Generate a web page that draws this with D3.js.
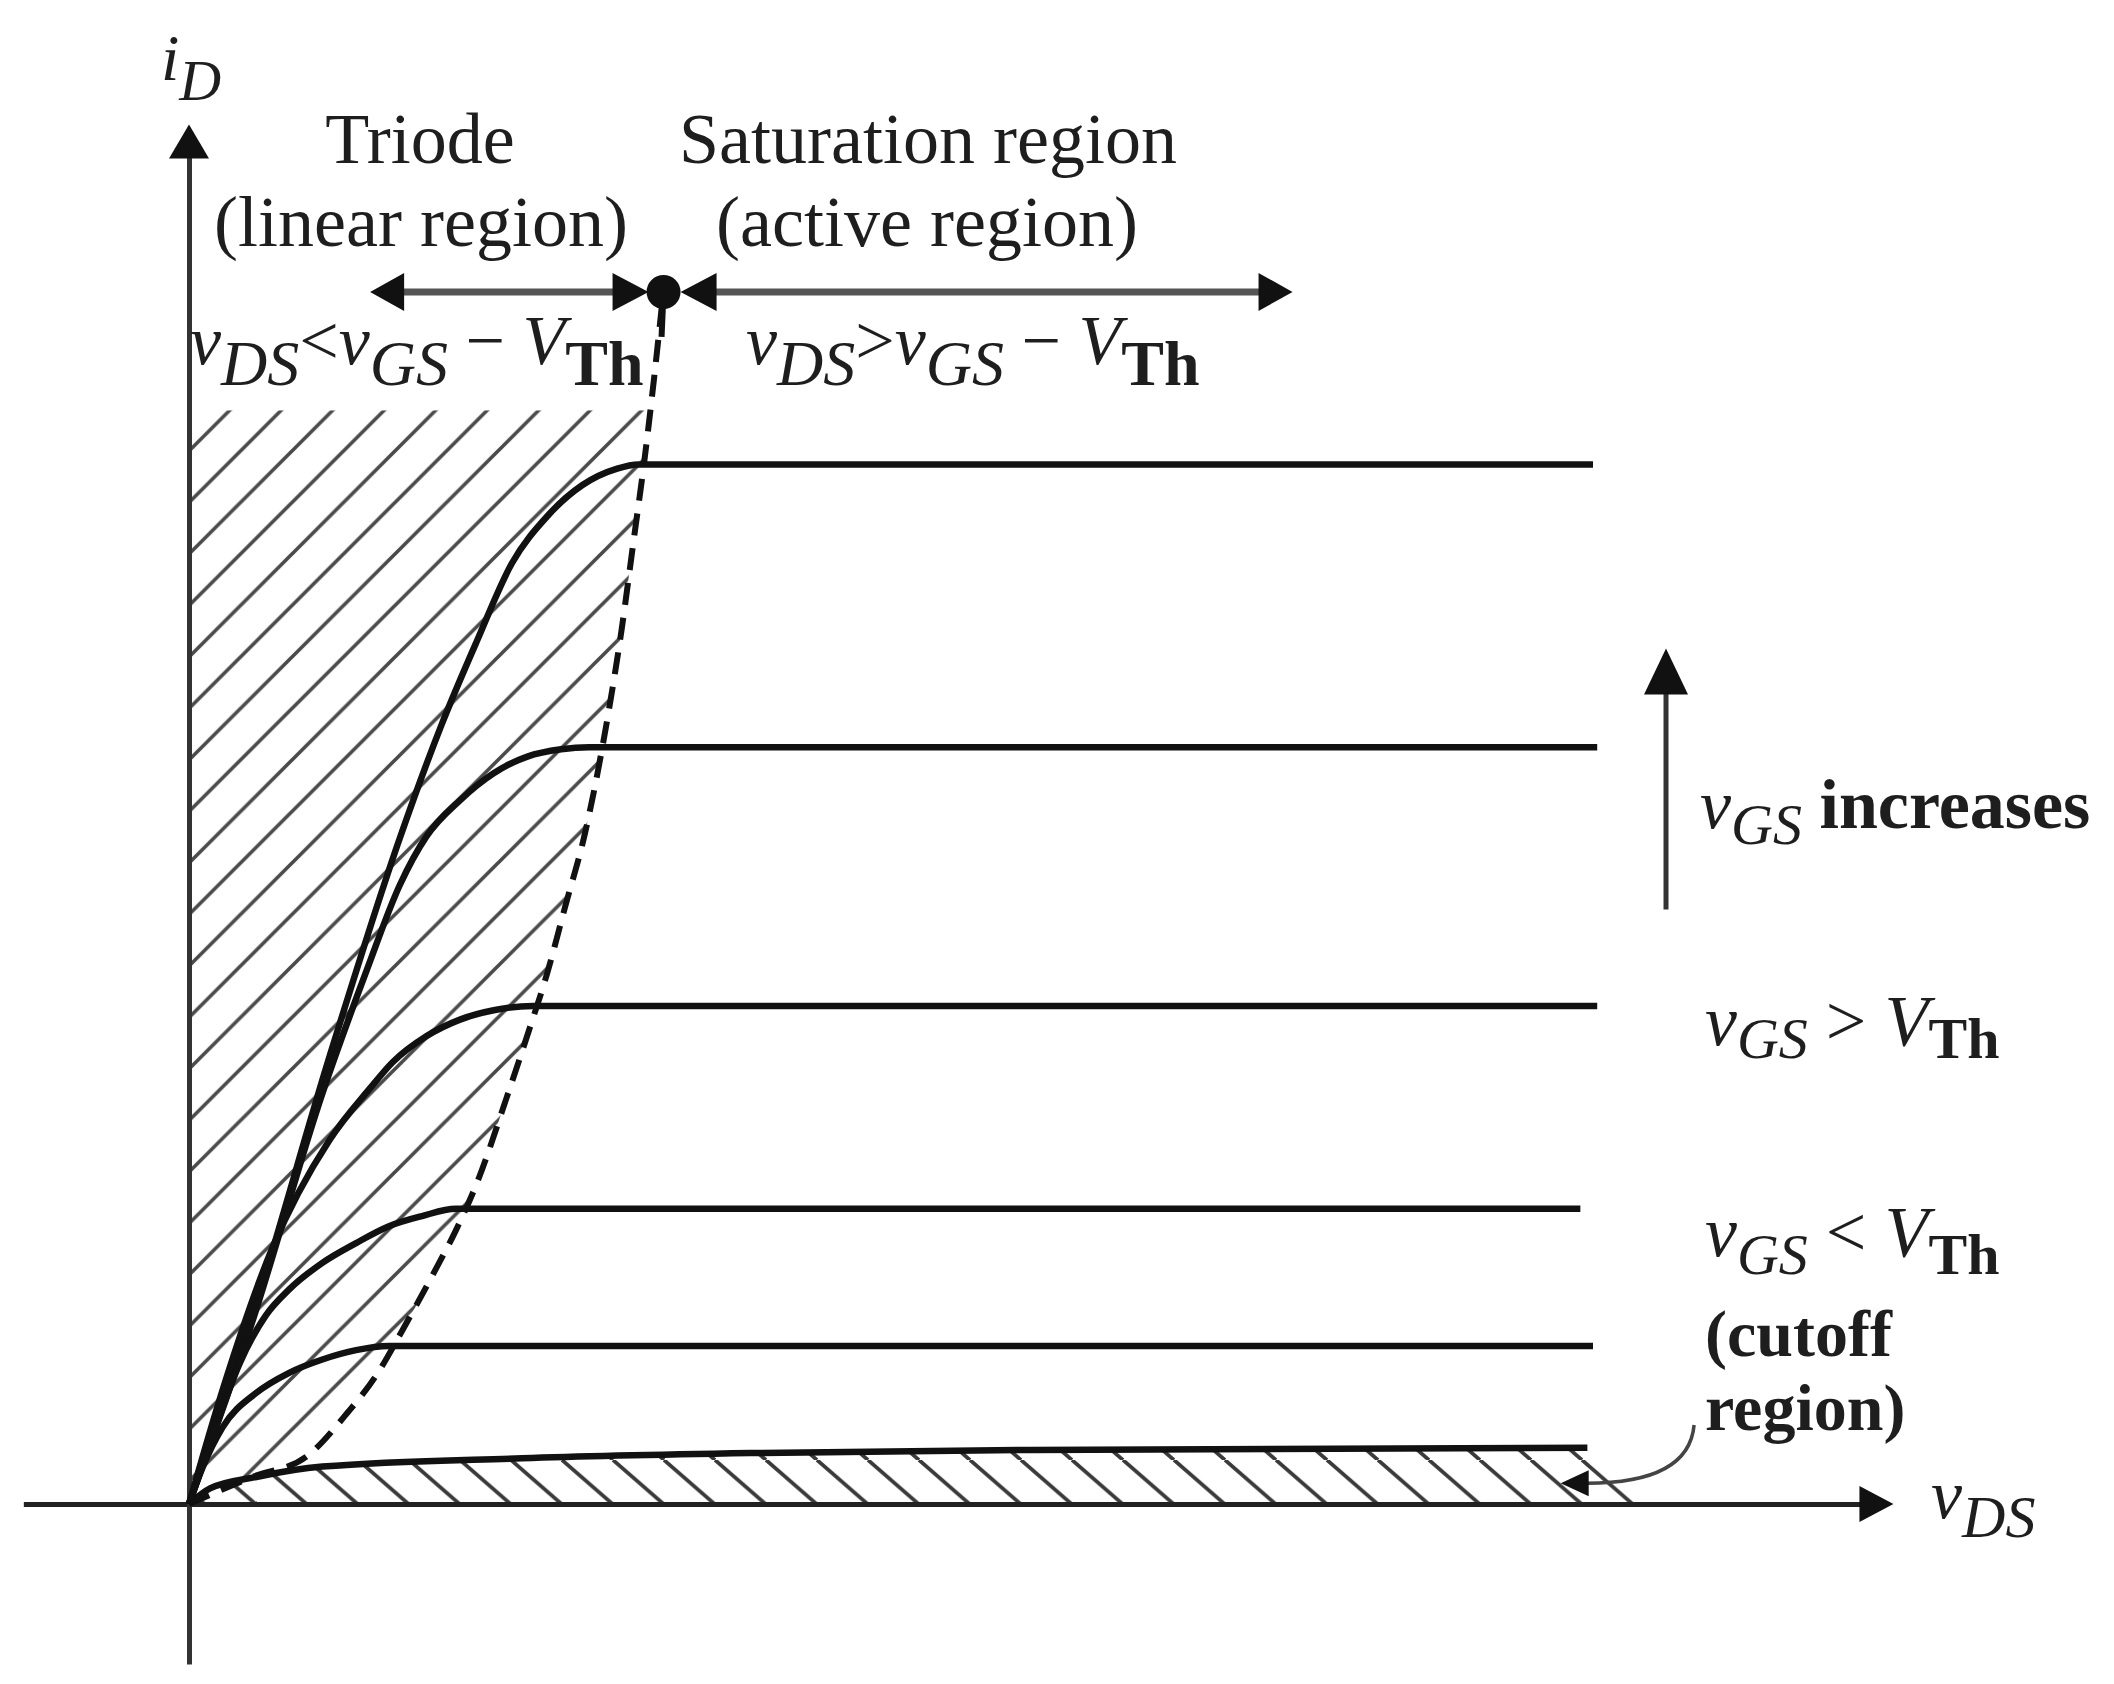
<!DOCTYPE html>
<html>
<head>
<meta charset="utf-8">
<script src="https://cdn.jsdelivr.net/npm/d3@7"></script>
<style>
  html, body { margin: 0; padding: 0; background: #fff; }
  svg { display: block; }
  text { font-family: 'Liberation Serif', 'Times New Roman', serif; fill: #1e1e1e; }
</style>
</head>
<body>
<svg id="chart"></svg>
<script>
// MOSFET output characteristics (vDS in V, iD in mA)

// saturation current of each vGS curve, highest vGS first
const satLevels = [10.0, 7.28, 4.79, 2.84, 1.52];
// where each flat line stops on the right
const lineEnds = [10.0, 10.03, 10.03, 9.91, 10.0];

// triode part of each curve (origin up to the knee)
const triodeVds = [
    [0, 0.45, 1.0, 1.5, 1.8, 2.05, 2.3, 2.55, 2.8, 3.05, 3.2],
    [0, 0.45, 0.95, 1.27, 1.5, 1.69, 1.93, 2.17, 2.41, 2.65, 2.85],
    [0, 0.24, 0.59, 1.0, 1.29, 1.45, 1.69, 1.93, 2.17, 2.45],
    [0, 0.19, 0.36, 0.55, 0.71, 0.95, 1.19, 1.42, 1.66, 1.9],
    [0, 0.09, 0.24, 0.48, 0.71, 0.95, 1.19, 1.42]
];
const triodeId = [
    [0, 1.8, 4.3, 6.4, 7.5, 8.3, 9.05, 9.5, 9.8, 9.96, 10.0],
    [0, 1.75, 3.95, 5.15, 5.95, 6.42, 6.77, 7.03, 7.19, 7.26, 7.28],
    [0, 1.1, 2.45, 3.5, 4.0, 4.25, 4.5, 4.66, 4.75, 4.79],
    [0, 0.74, 1.35, 1.82, 2.06, 2.32, 2.51, 2.67, 2.77, 2.84],
    [0, 0.33, 0.74, 1.07, 1.26, 1.39, 1.48, 1.52]
];

// cutoff curve (vGS < VTh)
const cutoffVds = [0, 0.15, 0.48, 0.95, 2.37, 4.0, 6.0, 9.96];
const cutoffId = [0, 0.15, 0.26, 0.36, 0.44, 0.49, 0.52, 0.54];
const cutoffHatchEnd = 10.43;

// dashed boundary vDS = vGS - VTh
const boundaryVds = [0, 0.45, 0.84, 1.13, 1.33, 1.54, 1.75, 1.90, 2.06, 2.26, 2.42, 2.55, 2.68, 2.82, 2.96, 3.08, 3.17, 3.24, 3.31, 3.38];
const boundaryId = [0, 0.26, 0.46, 0.88, 1.23, 1.72, 2.24, 2.63, 3.12, 3.9, 4.55, 5.1, 5.75, 6.45, 7.4, 8.4, 9.3, 10.0, 10.8, 11.68];
const triodeHatchTop = 10.52;

// axis extents
const vdsAxisRange = [-1.18, 12.14];
const idAxisRange = [-1.54, 13.27];

const width = 2114;
const height = 1684;

const svg = d3.select('#chart')
    .attr('width', width)
    .attr('height', height);

svg.append('rect').attr('width', width).attr('height', height).attr('fill', '#fff');

const x = d3.scaleLinear().domain([0, 10]).range([189, 1593]);
const y = d3.scaleLinear().domain([0, 10]).range([1504, 464.5]);

const zip = (xs, ys) => xs.map((v, i) => [v, ys[i]]);
const line = d3.line()
    .x(d => x(d[0]))
    .y(d => y(d[1]))
    .curve(d3.curveMonotoneX);

// filled triangle, tip at (tx,ty), pointing along dir ('l','r','u')
function arrowHead(tx, ty, dir, len, half) {
    if (dir === 'r') return `M${tx},${ty}L${tx - len},${ty - half}L${tx - len},${ty + half}Z`;
    if (dir === 'l') return `M${tx},${ty}L${tx + len},${ty - half}L${tx + len},${ty + half}Z`;
    return `M${tx},${ty}L${tx - half},${ty + len}L${tx + half},${ty + len}Z`;
}

// --- hatch patterns ---
const defs = svg.append('defs');

const P = 51.5;
defs.append('pattern')
    .attr('id', 'hatchTriode')
    .attr('patternUnits', 'userSpaceOnUse')
    .attr('x', x(0)).attr('y', 451)
    .attr('width', P).attr('height', P)
    .append('path')
    .attr('d', `M0,${P}L${P},0M${-P / 2},${P / 2}L${P / 2},${-P / 2}M${P / 2},${P * 1.5}L${P * 1.5},${P / 2}`)
    .attr('stroke', '#4a4a4a')
    .attr('stroke-width', 3.6);

// cutoff hatch: "\" lines, about 40 degrees
const Q = 51, QH = Q / 1.15;
defs.append('pattern')
    .attr('id', 'hatchCutoff')
    .attr('patternUnits', 'userSpaceOnUse')
    .attr('x', 613).attr('y', 1460)
    .attr('width', Q).attr('height', QH)
    .append('path')
    .attr('d', `M0,0L${Q},${QH}M${-Q},0L0,${QH}M${Q},0L${2 * Q},${QH}`)
    .attr('stroke', '#3a3a3a')
    .attr('stroke-width', 3.8);

const boundaryPts = zip(boundaryVds, boundaryId);
const cutoffPts = zip(cutoffVds, cutoffId);

defs.append('clipPath').attr('id', 'clipTriode')
    .append('path')
    .attr('d', line(boundaryPts) + `L${x(0)},${y(11.68)}Z`);

defs.append('clipPath').attr('id', 'clipCutoff')
    .append('path')
    .attr('d', line(cutoffPts) + `L${x(cutoffHatchEnd)},${y(0)}L${x(0)},${y(0)}Z`);

svg.append('rect')
    .attr('x', x(0)).attr('y', y(triodeHatchTop))
    .attr('width', x(3.6) - x(0)).attr('height', y(0) - y(triodeHatchTop))
    .attr('fill', 'url(#hatchTriode)')
    .attr('clip-path', 'url(#clipTriode)');

svg.append('rect')
    .attr('x', x(0)).attr('y', y(0.7))
    .attr('width', x(cutoffHatchEnd) - x(0)).attr('height', y(0) - y(0.7))
    .attr('fill', 'url(#hatchCutoff)')
    .attr('clip-path', 'url(#clipCutoff)');

// --- axes (no ticks, just the lines) ---
const xAxisScale = d3.scaleLinear().domain(vdsAxisRange).range([x(vdsAxisRange[0]), x(vdsAxisRange[1]) - 30]);
const yAxisScale = d3.scaleLinear().domain(idAxisRange).range([y(idAxisRange[0]), y(idAxisRange[1]) + 30]);

const xAxisG = svg.append('g')
    .attr('transform', `translate(0,${y(0)})`)
    .call(d3.axisBottom(xAxisScale).tickValues([]).tickSizeOuter(0));
const yAxisG = svg.append('g')
    .attr('transform', `translate(${x(0)},0)`)
    .call(d3.axisLeft(yAxisScale).tickValues([]).tickSizeOuter(0));
xAxisG.select('.domain').attr('stroke', '#222').attr('stroke-width', 5);
yAxisG.select('.domain').attr('stroke', '#333').attr('stroke-width', 5);

svg.append('path').attr('d', arrowHead(x(vdsAxisRange[1]), y(0), 'r', 34, 18)).attr('fill', '#111');
svg.append('path').attr('d', arrowHead(x(0), y(idAxisRange[1]), 'u', 34, 20)).attr('fill', '#111');

// --- dashed boundary ---
svg.append('path')
    .attr('d', line(boundaryPts))
    .attr('fill', 'none')
    .attr('stroke', '#111')
    .attr('stroke-width', 6)
    .attr('stroke-dasharray', '22,13');

// --- cutoff curve ---
svg.append('path')
    .attr('d', line(cutoffPts))
    .attr('fill', 'none')
    .attr('stroke', '#111')
    .attr('stroke-width', 6.5);

// --- id curves ---
satLevels.forEach((isat, i) => {
    const pts = zip(triodeVds[i], triodeId[i]).concat([[lineEnds[i], isat]]);
    svg.append('path')
        .attr('d', line(pts))
        .attr('fill', 'none')
        .attr('stroke', '#111')
        .attr('stroke-width', 6.5)
        .attr('stroke-linejoin', 'round');
});

// --- region marker arrow with dot ---
const markY = y(11.66);
const dotX = x(3.38);
const marker = svg.append('g');
marker.append('line')
    .attr('x1', x(1.29) + 20).attr('x2', dotX - 30)
    .attr('y1', markY).attr('y2', markY)
    .attr('stroke', '#555').attr('stroke-width', 7);
marker.append('line')
    .attr('x1', dotX + 30).attr('x2', x(7.86) - 20)
    .attr('y1', markY).attr('y2', markY)
    .attr('stroke', '#555').attr('stroke-width', 7);
marker.append('path').attr('d', arrowHead(x(1.29), markY, 'l', 34, 19)).attr('fill', '#111');
marker.append('path').attr('d', arrowHead(x(7.86), markY, 'r', 34, 19)).attr('fill', '#111');
marker.append('path').attr('d', arrowHead(dotX - 15, markY, 'r', 36, 19)).attr('fill', '#111');
marker.append('path').attr('d', arrowHead(dotX + 17, markY, 'l', 36, 19)).attr('fill', '#111');
marker.append('circle').attr('cx', dotX).attr('cy', markY).attr('r', 17).attr('fill', '#111');
marker.append('line')
    .attr('x1', dotX).attr('x2', dotX - 2)
    .attr('y1', markY).attr('y2', markY + 45)
    .attr('stroke', '#111').attr('stroke-width', 6);

// --- vGS increases arrow ---
const upX = x(10.52);
svg.append('line')
    .attr('x1', upX).attr('x2', upX)
    .attr('y1', y(5.72)).attr('y2', y(8.23) + 40)
    .attr('stroke', '#333').attr('stroke-width', 5);
svg.append('path').attr('d', arrowHead(upX, y(8.23), 'u', 46, 22)).attr('fill', '#111');

// --- curved pointer to cutoff region ---
const cx0 = x(10.72), cy0 = y(0.76);
const tipX = x(9.77), tipY = y(0.20);
svg.append('path')
    .attr('d', `M${cx0},${cy0}C${cx0 - 4},${cy0 + 45} ${cx0 - 50},${tipY} ${tipX + 26},${tipY}`)
    .attr('fill', 'none')
    .attr('stroke', '#444')
    .attr('stroke-width', 3.5);
svg.append('path').attr('d', arrowHead(tipX, tipY, 'l', 28, 13)).attr('fill', '#111');

// --- text ---
function mathLabel(px, py, parts, opts) {
    const o = Object.assign({ size: 70, subSize: 62, shift: 22, anchor: 'start' }, opts || {});
    const t = svg.append('text')
        .attr('x', px).attr('y', py)
        .attr('text-anchor', o.anchor)
        .attr('xml:space', 'preserve');
    parts.forEach(p => {
        t.append('tspan')
            .attr('y', py + (p.sub ? o.shift : 0))
            .attr('font-size', p.sub ? o.subSize : o.size)
            .attr('font-style', p.it ? 'italic' : 'normal')
            .attr('font-weight', p.bold ? 'bold' : 'normal')
            .text(p.t);
    });
    return t;
}

// axis names
mathLabel(161, 80, [{ t: 'i', it: true }, { t: 'D', it: true, sub: true }], { size: 66, subSize: 58, shift: 20 });
mathLabel(1931, 1518, [{ t: 'v', it: true }, { t: 'DS', it: true, sub: true }], { size: 70, subSize: 60, shift: 19 });

// region headings
[['Triode', 420, 163], ['(linear region)', 421, 246],
 ['Saturation region', 928, 163], ['(active region)', 927, 246]].forEach(d => {
    svg.append('text')
        .attr('x', d[1]).attr('y', d[2])
        .attr('text-anchor', 'middle')
        .attr('font-size', 72)
        .text(d[0]);
});

const cond = (op) => [
    { t: 'v', it: true }, { t: 'DS', it: true, sub: true }, { t: op },
    { t: 'v', it: true }, { t: 'GS', it: true, sub: true }, { t: ' − ' },
    { t: 'V', it: true }, { t: 'Th', sub: true, bold: true }
];
mathLabel(190, 364, cond('<'), { size: 70, subSize: 64, shift: 21 });
mathLabel(746, 364, cond('>'), { size: 70, subSize: 64, shift: 21 });

// right-hand labels
mathLabel(1700, 828, [
    { t: 'v', it: true }, { t: 'GS', it: true, sub: true }, { t: ' increases', bold: true }
], { size: 70, subSize: 58, shift: 16 });
mathLabel(1705, 1045, [
    { t: 'v', it: true }, { t: 'GS', it: true, sub: true }, { t: ' > ' },
    { t: 'V', it: true }, { t: 'Th', sub: true, bold: true }
], { size: 72, subSize: 58, shift: 13 });
mathLabel(1705, 1256, [
    { t: 'v', it: true }, { t: 'GS', it: true, sub: true }, { t: ' < ' },
    { t: 'V', it: true }, { t: 'Th', sub: true, bold: true }
], { size: 72, subSize: 58, shift: 18 });
mathLabel(1705, 1356, [{ t: '(cutoff', bold: true }], { size: 66 });
mathLabel(1705, 1430, [{ t: 'region)', bold: true }], { size: 66 });
</script>
</body>
</html>
